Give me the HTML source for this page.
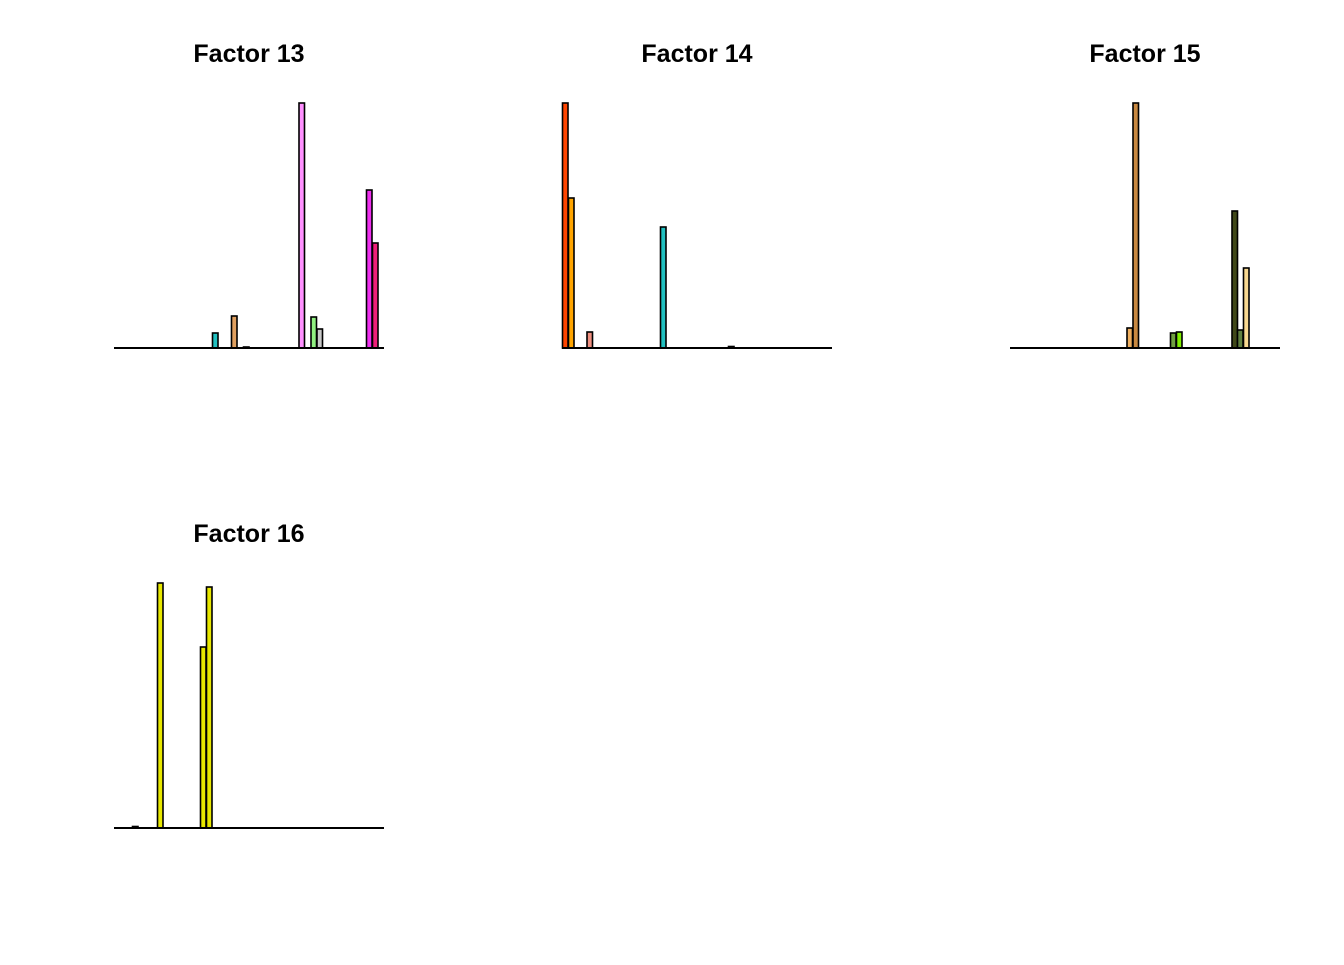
<!DOCTYPE html>
<html><head><style>body{margin:0;background:#fff}</style></head><body>
<svg width="1344" height="960" xmlns="http://www.w3.org/2000/svg" font-family="Liberation Sans, sans-serif">
<g font-size="25" font-weight="bold" text-anchor="middle" fill="#000">
<text x="249" y="62">Factor 13</text>
<text x="697" y="62">Factor 14</text>
<text x="1145" y="62">Factor 15</text>
<text x="249" y="542">Factor 16</text>
</g>
<g stroke="#000" stroke-width="1.6">
<rect x="212.5" y="333" width="5.5" height="15" fill="#20c0c0"/>
<rect x="231.5" y="316" width="5.5" height="32" fill="#e0a060"/>
<rect x="243.5" y="347" width="5.5" height="1" fill="#ccc"/>
<rect x="299" y="103" width="5.5" height="245" fill="#ff90ff"/>
<rect x="311" y="317" width="5.5" height="31" fill="#90f080"/>
<rect x="317" y="329" width="5.5" height="19" fill="#c8c8c8"/>
<rect x="366.5" y="190" width="5.5" height="158" fill="#f030f0"/>
<rect x="372.5" y="243" width="5.5" height="105" fill="#f0207a"/>
<rect x="562.5" y="103" width="5.5" height="245" fill="#ff4500"/>
<rect x="568.5" y="198" width="5.5" height="150" fill="#ffa500"/>
<rect x="587" y="332" width="5.5" height="16" fill="#f09080"/>
<rect x="660.5" y="227" width="5.5" height="121" fill="#20c0c0"/>
<rect x="728.5" y="346.5" width="5.5" height="1.5" fill="#333"/>
<rect x="1127" y="328" width="5.5" height="20" fill="#f0b060"/>
<rect x="1133" y="103" width="5.5" height="245" fill="#c88840"/>
<rect x="1170.5" y="333" width="5.5" height="15" fill="#70a040"/>
<rect x="1176.5" y="332" width="5.5" height="16" fill="#80f000"/>
<rect x="1232" y="211" width="5.5" height="137" fill="#404818"/>
<rect x="1237.5" y="330" width="5.5" height="18" fill="#608040"/>
<rect x="1243.5" y="268" width="5.5" height="80" fill="#f8d890"/>
<rect x="132.5" y="826.5" width="5.5" height="1.5" fill="#333"/>
<rect x="157.5" y="583" width="5.5" height="245" fill="#e8e800"/>
<rect x="200.5" y="647" width="5.5" height="181" fill="#e8e800"/>
<rect x="206.5" y="587" width="5.5" height="241" fill="#e8e800"/>
</g>
<g stroke="#000" stroke-width="2">
<line x1="114" y1="348" x2="384" y2="348"/>
<line x1="562" y1="348" x2="832" y2="348"/>
<line x1="1010" y1="348" x2="1280" y2="348"/>
<line x1="114" y1="828" x2="384" y2="828"/>
</g>
</svg>
</body></html>
